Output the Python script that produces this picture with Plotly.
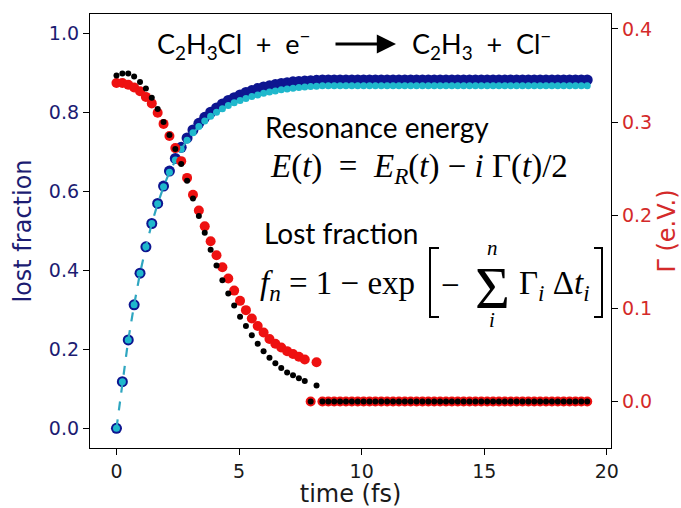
import plotly.graph_objects as go

# time grid (fs)
time_fs = [
    0.00, 0.24, 0.48, 0.72, 0.96, 1.20, 1.44, 1.68, 1.92, 2.16,
    2.40, 2.64, 2.88, 3.12, 3.36, 3.60, 3.84, 4.08, 4.32, 4.56,
    4.80, 5.04, 5.28, 5.52, 5.76, 6.00, 6.24, 6.48, 6.72, 6.96,
    7.20, 7.44, 7.68, 7.92, 8.16, 8.40, 8.64, 8.88, 9.12, 9.36,
    9.60, 9.84, 10.08, 10.32, 10.56, 10.80, 11.04, 11.28, 11.52, 11.76,
    12.00, 12.24, 12.48, 12.72, 12.96, 13.20, 13.44, 13.68, 13.92, 14.16,
    14.40, 14.64, 14.88, 15.12, 15.36, 15.60, 15.84, 16.08, 16.32, 16.56,
    16.80, 17.04, 17.28, 17.52, 17.76, 18.00, 18.24, 18.48, 18.72, 18.96,
    19.20,
]

# lost fraction, run A (dark blue)
lost_a = [
    0.000, 0.118, 0.224, 0.313, 0.393, 0.460, 0.519, 0.570, 0.614, 0.652,
    0.684, 0.712, 0.736, 0.756, 0.773, 0.788, 0.801, 0.812, 0.822, 0.831,
    0.838, 0.845, 0.851, 0.856, 0.861, 0.865, 0.868, 0.871, 0.874, 0.876,
    0.878, 0.879, 0.880, 0.881, 0.882, 0.883, 0.883, 0.883, 0.883, 0.883,
    0.883, 0.883, 0.883, 0.883, 0.883, 0.883, 0.883, 0.883, 0.883, 0.883,
    0.883, 0.883, 0.883, 0.883, 0.883, 0.883, 0.883, 0.883, 0.883, 0.883,
    0.883, 0.883, 0.883, 0.883, 0.883, 0.883, 0.883, 0.883, 0.883, 0.883,
    0.883, 0.883, 0.883, 0.883, 0.883, 0.883, 0.883, 0.883, 0.883, 0.883,
    0.883,
]

# lost fraction, run B (cyan, dashed)
lost_b = [
    0.000, 0.118, 0.224, 0.313, 0.393, 0.460, 0.519, 0.569, 0.612, 0.649,
    0.680, 0.707, 0.730, 0.749, 0.765, 0.779, 0.791, 0.801, 0.810, 0.818,
    0.825, 0.831, 0.836, 0.841, 0.845, 0.849, 0.852, 0.855, 0.858, 0.860,
    0.862, 0.864, 0.865, 0.866, 0.867, 0.868, 0.868, 0.868, 0.868, 0.868,
    0.868, 0.868, 0.868, 0.868, 0.868, 0.868, 0.868, 0.868, 0.868, 0.868,
    0.868, 0.868, 0.868, 0.868, 0.868, 0.868, 0.868, 0.868, 0.868, 0.868,
    0.868, 0.868, 0.868, 0.868, 0.868, 0.868, 0.868, 0.868, 0.868, 0.868,
    0.868, 0.868, 0.868, 0.868, 0.868, 0.868, 0.868, 0.868, 0.868, 0.868,
    0.868,
]

# resonance width Gamma (eV), run A (red)
gamma_a = [
    0.342, 0.342, 0.340, 0.337, 0.333, 0.327, 0.320, 0.310, 0.298, 0.285,
    0.272, 0.258, 0.240, 0.222, 0.205, 0.188, 0.172, 0.157, 0.144, 0.132,
    0.119, 0.108, 0.098, 0.089, 0.081, 0.074, 0.067, 0.062, 0.058, 0.054,
    0.051, 0.048, 0.045, 0.000, 0.042, 0.000, 0.000, 0.000, 0.000, 0.000,
    0.000, 0.000, 0.000, 0.000, 0.000, 0.000, 0.000, 0.000, 0.000, 0.000,
    0.000, 0.000, 0.000, 0.000, 0.000, 0.000, 0.000, 0.000, 0.000, 0.000,
    0.000, 0.000, 0.000, 0.000, 0.000, 0.000, 0.000, 0.000, 0.000, 0.000,
    0.000, 0.000, 0.000, 0.000, 0.000, 0.000, 0.000, 0.000, 0.000, 0.000,
    0.000,
]

# resonance width Gamma (eV), run B (black)
gamma_b = [
    0.350, 0.352, 0.352, 0.349, 0.343, 0.336, 0.326, 0.314, 0.300, 0.286,
    0.271, 0.255, 0.237, 0.218, 0.199, 0.181, 0.163, 0.146, 0.130, 0.116,
    0.103, 0.091, 0.081, 0.071, 0.062, 0.054, 0.047, 0.041, 0.036, 0.031,
    0.028, 0.025, 0.022, 0.000, 0.017, 0.000, 0.000, 0.000, 0.000, 0.000,
    0.000, 0.000, 0.000, 0.000, 0.000, 0.000, 0.000, 0.000, 0.000, 0.000,
    0.000, 0.000, 0.000, 0.000, 0.000, 0.000, 0.000, 0.000, 0.000, 0.000,
    0.000, 0.000, 0.000, 0.000, 0.000, 0.000, 0.000, 0.000, 0.000, 0.000,
    0.000, 0.000, 0.000, 0.000, 0.000, 0.000, 0.000, 0.000, 0.000, 0.000,
    0.000,
]

x_ticks = [0, 5, 10, 15, 20]
left_ticks = [0.0, 0.2, 0.4, 0.6, 0.8, 1.0]
right_ticks = [0.0, 0.1, 0.2, 0.3, 0.4]

NAVY_TXT = "#1c1c72"
RED_TXT = "#d42a2a"
TICK_FONT = "DejaVu Sans"

fig = go.Figure()

fig.add_trace(go.Scatter(
    x=time_fs, y=lost_a, mode="markers",
    marker=dict(size=11, color="#0d1590", line=dict(width=0)),
    yaxis="y",
))
fig.add_trace(go.Scatter(
    x=time_fs, y=lost_b, mode="lines+markers",
    line=dict(color="#2fa6c0", width=2.2, dash="dash"),
    marker=dict(size=7, color="#1fb8cc", line=dict(width=0)),
    yaxis="y",
))
fig.add_trace(go.Scatter(
    x=time_fs, y=gamma_a, mode="markers",
    marker=dict(size=10, color="#ee1111", line=dict(width=0)),
    yaxis="y2",
))
fig.add_trace(go.Scatter(
    x=time_fs, y=gamma_b, mode="markers",
    marker=dict(size=6, color="#000000", line=dict(width=0)),
    yaxis="y2",
))

# plot-area pixel geometry, used to place the text blocks
L, R, T, B = 90, 611, 14, 448


def px(x):
    return (x - L) / (R - L)


def py(y):
    return (B - y) / (B - T)


SANS = "Lato"
SERIF = "Liberation Serif"
EQ = 33

annotations = [
    dict(text="C<sub>2</sub>H<sub>3</sub>Cl  +  e<sup>−</sup>", x=px(155), y=py(44),
         xanchor="left", yanchor="middle", font=dict(family=SANS, size=27, color="black")),
    dict(text="C<sub>2</sub>H<sub>3</sub>  +  Cl<sup>−</sup>", x=px(410), y=py(44),
         xanchor="left", yanchor="middle", font=dict(family=SANS, size=27, color="black")),
    dict(text="", x=px(396), y=py(44), ax=-62, ay=0, showarrow=True,
         arrowhead=2, arrowsize=1.2, arrowwidth=3.2, arrowcolor="black"),
    dict(text="Resonance energy", x=px(263), y=py(127),
         xanchor="left", yanchor="middle", font=dict(family=SANS, size=28, color="black")),
    dict(text="<i>E</i>(<i>t</i>)  =  <i>E</i><sub><i>R</i></sub>(<i>t</i>) − <i>i</i> Γ(<i>t</i>)/2",
         x=px(268), y=py(168), xanchor="left", yanchor="middle",
         font=dict(family=SERIF, size=EQ, color="black")),
    dict(text="Lost fraction", x=px(262), y=py(233),
         xanchor="left", yanchor="middle", font=dict(family=SANS, size=28, color="black")),
    dict(text="<i>f</i><sub><i>n</i></sub> = 1 − exp", x=px(258), y=py(285),
         xanchor="left", yanchor="middle", font=dict(family=SERIF, size=EQ, color="black")),
    dict(text="−", x=px(450), y=py(285), xanchor="center", yanchor="middle",
         font=dict(family=SERIF, size=EQ, color="black")),
    dict(text="Σ", x=px(492), y=py(288), xanchor="center", yanchor="middle",
         font=dict(family=SERIF, size=60, color="black")),
    dict(text="<i>n</i>", x=px(492), y=py(248), xanchor="center", yanchor="middle",
         font=dict(family=SERIF, size=21, color="black")),
    dict(text="<i>i</i>", x=px(492), y=py(320), xanchor="center", yanchor="middle",
         font=dict(family=SERIF, size=21, color="black")),
    dict(text="Γ<sub><i>i</i></sub> Δ<i>t</i><sub><i>i</i></sub>", x=px(517), y=py(285),
         xanchor="left", yanchor="middle", font=dict(family=SERIF, size=EQ, color="black")),
]
for a in annotations:
    a.setdefault("xref", "paper")
    a.setdefault("yref", "paper")
    a.setdefault("showarrow", False)

# square brackets around the sum
shapes = [
    dict(type="path", xref="paper", yref="paper",
         path=f"M {px(439)},{py(248)} L {px(430)},{py(248)} L {px(430)},{py(317)} L {px(439)},{py(317)}",
         line=dict(color="black", width=2)),
    dict(type="path", xref="paper", yref="paper",
         path=f"M {px(594)},{py(248)} L {px(602)},{py(248)} L {px(602)},{py(317)} L {px(594)},{py(317)}",
         line=dict(color="black", width=2)),
]

axis_common = dict(
    showgrid=False, zeroline=False, ticks="outside", ticklen=6, tickwidth=1.3,
    tickcolor="black", showline=True, linecolor="black", linewidth=1.3,
    automargin=False,
)

fig.update_layout(
    width=681, height=508,
    margin=dict(l=L, r=681 - R, t=T, b=508 - B),
    plot_bgcolor="white", paper_bgcolor="white",
    showlegend=False,
    font=dict(family=TICK_FONT),
    xaxis=dict(
        range=[-1.08, 20.17], tickvals=x_ticks, mirror=True,
        tickfont=dict(family=TICK_FONT, size=19, color="#1a1a1a"),
        title=dict(text="time (fs)", font=dict(family=TICK_FONT, size=24, color="#1a1a1a"), standoff=8),
        **axis_common,
    ),
    yaxis=dict(
        range=[-0.05, 1.05], tickvals=left_ticks,
        ticktext=[f"{v:.1f}" for v in left_ticks],
        tickfont=dict(family=TICK_FONT, size=19, color=NAVY_TXT),
        title=dict(text="lost fraction", font=dict(family=TICK_FONT, size=24, color=NAVY_TXT), standoff=10),
        **axis_common,
    ),
    yaxis2=dict(
        range=[-0.05, 0.416], tickvals=right_ticks, overlaying="y", side="right",
        ticktext=[f"{v:.1f}" for v in right_ticks],
        tickfont=dict(family=TICK_FONT, size=19, color=RED_TXT),
        title=dict(text="Γ (e.V.)", font=dict(family=TICK_FONT, size=24, color=RED_TXT), standoff=12),
        **axis_common,
    ),
    annotations=annotations,
    shapes=shapes,
)

fig.write_html("out.html")
